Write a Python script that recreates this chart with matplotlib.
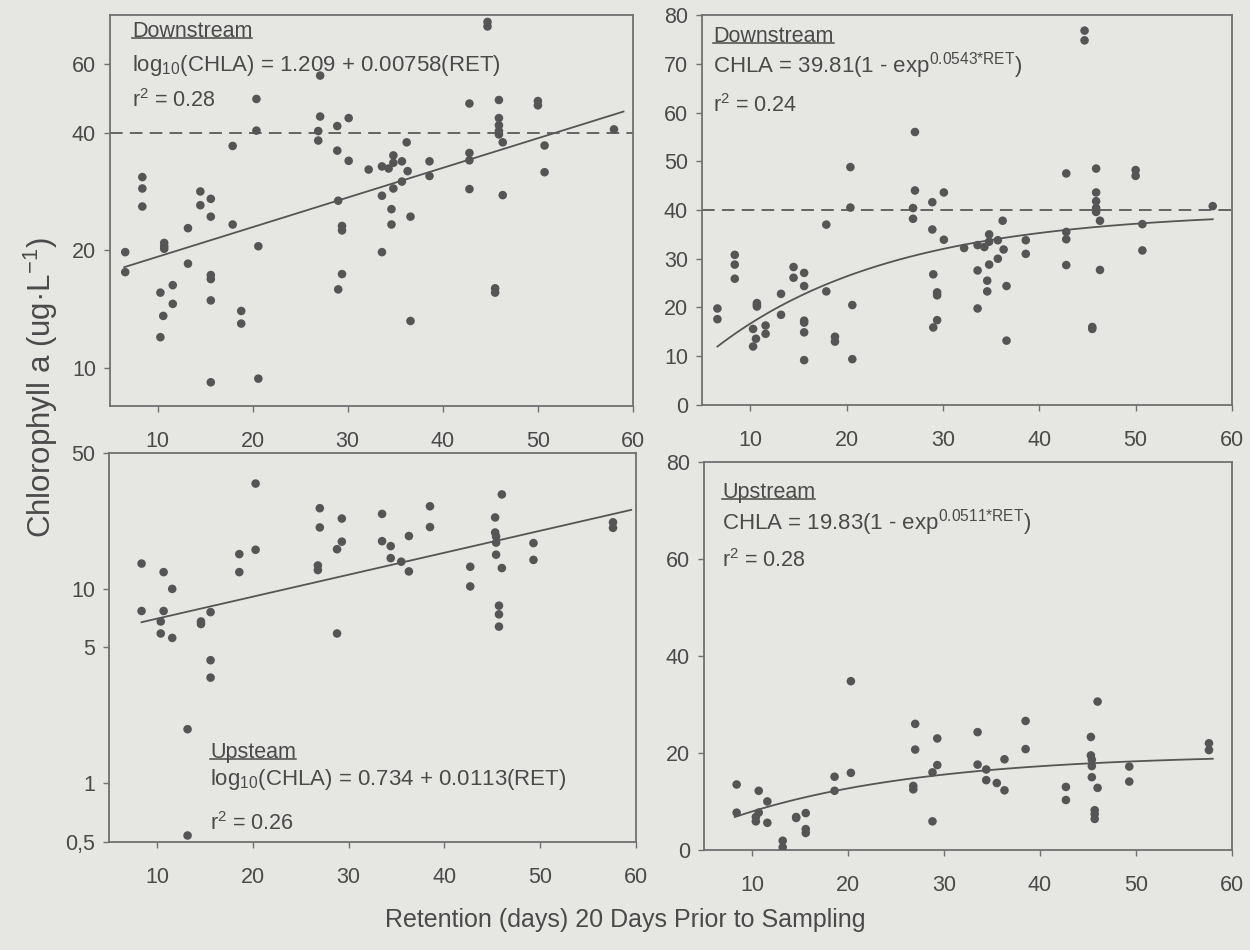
import matplotlib.pyplot as plt
import numpy as np

plt.rcParams['font.family'] = ['Liberation Sans', 'DejaVu Sans']
plt.rcParams['mathtext.fontset'] = 'custom'
plt.rcParams['mathtext.rm'] = 'Liberation Sans'
plt.rcParams['mathtext.it'] = 'Liberation Sans:italic'
plt.rcParams['mathtext.bf'] = 'Liberation Sans:bold'

PAPER = '#e6e6e2'
INK = '#4a4a4a'
DOT = '#555555'

# Downstream: retention (days) vs chlorophyll a (ug/L)
down_ret = [6.6, 6.6, 8.4, 8.4, 8.4, 10.7, 10.7, 10.7, 10.3, 10.6, 10.3, 11.6, 11.6,
            13.2, 13.2, 14.5, 14.5, 15.6, 15.6, 15.6, 15.6, 15.6, 15.6, 17.9, 17.9,
            18.8, 18.8, 20.4, 20.4, 20.6, 20.6, 27.1, 27.1, 26.9, 26.9, 28.9, 28.9,
            29.0, 29.4, 29.4, 29.4, 29.0, 30.1, 30.1, 32.2, 33.6, 33.6, 33.6, 34.3,
            34.6, 34.6, 34.8, 34.8, 34.8, 35.7, 35.7, 36.3, 36.2, 36.6, 36.6, 38.6,
            38.6, 42.8, 42.8, 42.8, 42.8, 44.7, 44.7, 45.5, 45.5, 45.9, 45.9, 45.9,
            45.9, 45.9, 46.3, 46.3, 50.0, 50.0, 50.7, 50.7, 58.0]
down_chla = [19.8, 17.6, 30.8, 28.8, 25.9, 20.9, 20.2, 20.5, 15.6, 13.6, 12.0, 16.3, 14.6,
             22.8, 18.5, 28.3, 26.1, 27.1, 24.4, 17.3, 16.9, 14.9, 9.2, 37.0, 23.3,
             14.0, 13.0, 48.8, 40.5, 20.5, 9.4, 56.0, 44.0, 40.4, 38.2, 41.6, 36.0,
             26.8, 23.1, 22.5, 17.4, 15.9, 43.6, 33.9, 32.2, 32.8, 27.6, 19.8, 32.4,
             25.5, 23.3, 28.8, 35.0, 33.5, 33.8, 30.0, 31.9, 37.8, 24.4, 13.2, 33.8,
             31.0, 47.5, 35.5, 34.0, 28.7, 76.8, 74.8, 16.0, 15.6, 48.5, 43.6, 41.8,
             40.4, 39.6, 37.8, 27.7, 48.2, 47.0, 37.1, 31.7, 40.8]

# Upstream
up_ret = [8.4, 8.4, 10.7, 10.7, 10.4, 10.4, 11.6, 11.6, 13.2, 13.2, 14.6, 14.6,
          15.6, 15.6, 15.6, 18.6, 18.6, 20.3, 20.3, 27.0, 27.0, 26.8, 26.8, 28.8,
          28.8, 29.3, 29.3, 33.5, 33.5, 34.4, 34.4, 35.5, 36.3, 36.3, 38.5, 38.5,
          42.7, 42.7, 45.3, 45.3, 45.4, 45.4, 45.4, 45.7, 45.7, 45.7, 46.0, 46.0,
          49.3, 49.3, 57.6, 57.6]
up_chla = [13.5, 7.7, 12.2, 7.7, 6.8, 5.9, 10.0, 5.6, 1.9, 0.54, 6.8, 6.6,
           7.6, 4.3, 3.5, 15.1, 12.2, 34.8, 15.9, 26.0, 20.7, 13.2, 12.5, 5.9,
           16.0, 23.0, 17.5, 24.3, 17.6, 16.6, 14.4, 13.8, 18.7, 12.3, 26.6, 20.8,
           13.0, 10.3, 23.3, 19.5, 18.6, 17.3, 15.0, 8.2, 7.4, 6.4, 30.6, 12.8,
           17.2, 14.1, 22.0, 20.6]

# fitted models printed on the figure
down_log_fit = (1.209, 0.00758)
up_log_fit = (0.734, 0.0113)
down_exp_fit = (39.81, 0.0543)
up_exp_fit = (19.83, 0.0511)

fig = plt.figure(figsize=(12.5, 9.5), dpi=100, facecolor=PAPER)
ax_tl = fig.add_axes([0.088, 0.5726, 0.4184, 0.4116])
ax_tr = fig.add_axes([0.5616, 0.5737, 0.424, 0.4105])
ax_bl = fig.add_axes([0.0872, 0.1137, 0.4216, 0.4095])
ax_br = fig.add_axes([0.5632, 0.1053, 0.4224, 0.4084])


def style(ax):
    ax.set_facecolor(PAPER)
    for s in ax.spines.values():
        s.set_color('#707070')
        s.set_linewidth(1.3)
    ax.tick_params(direction='out', length=4, width=1, colors='#707070',
                   labelcolor=INK, labelsize=15.5, pad=6)
    ax.tick_params(axis='x', pad=14)
    ax.set_xlim(5, 60)
    ax.set_xticks([10, 20, 30, 40, 50, 60])
    ax.minorticks_off()


def dots(ax, x, y):
    ax.scatter(x, y, s=38, color=DOT, edgecolors='none', zorder=3)


underlines = []


def notes(ax, x, ys, lines):
    t = ax.text(x, ys[0], lines[0], transform=ax.transAxes, fontsize=15.5, color=INK)
    underlines.append((ax, t))
    ax.text(x, ys[1], lines[1], transform=ax.transAxes, fontsize=16, color=INK)
    ax.text(x, ys[2], lines[2], transform=ax.transAxes, fontsize=15.5, color=INK)


for ax in (ax_tl, ax_tr, ax_bl, ax_br):
    style(ax)

# top left: downstream, log scale
ax_tl.set_yscale('log')
ax_tl.set_ylim(8, 80)
ax_tl.set_yticks([10, 20, 40, 60])
ax_tl.set_yticklabels(['10', '20', '40', '60'])
ax_tl.minorticks_off()
dots(ax_tl, down_ret, down_chla)
xl = np.linspace(6.5, 59, 50)
ax_tl.plot(xl, 10 ** (down_log_fit[0] + down_log_fit[1] * xl), color=DOT, lw=1.3)
ax_tl.axhline(40, color='#5a5a5a', lw=1.3, ls=(0, (7, 4)))
notes(ax_tl, 0.042, [0.944, 0.857, 0.765],
      ['Downstream', r'log$_{10}$(CHLA) = 1.209 + 0.00758(RET)', r'r$^{2}$ = 0.28'])

# top right: downstream, linear
ax_tr.set_ylim(0, 80)
ax_tr.set_yticks(range(0, 81, 10))
dots(ax_tr, down_ret, down_chla)
xc = np.linspace(6.6, 58, 80)
ax_tr.plot(xc, down_exp_fit[0] * (1 - np.exp(-down_exp_fit[1] * xc)), color=DOT, lw=1.3)
ax_tr.axhline(40, color='#5a5a5a', lw=1.3, ls=(0, (7, 4)))
notes(ax_tr, 0.021, [0.931, 0.852, 0.751],
      ['Downstream', r'CHLA = 39.81(1 - exp$^{\mathrm{0.0543{*}RET}}$)', r'r$^{2}$ = 0.24'])

# bottom left: upstream, log scale
ax_bl.set_yscale('log')
ax_bl.set_ylim(0.5, 50)
ax_bl.set_yticks([0.5, 1, 5, 10, 50])
ax_bl.set_yticklabels(['0,5', '1', '5', '10', '50'])
ax_bl.minorticks_off()
dots(ax_bl, up_ret, up_chla)
xl = np.linspace(8.4, 59.5, 50)
ax_bl.plot(xl, 10 ** (up_log_fit[0] + up_log_fit[1] * xl), color=DOT, lw=1.3)
notes(ax_bl, 0.192, [0.216, 0.147, 0.031],
      ['Upsteam', r'log$_{10}$(CHLA) = 0.734 + 0.0113(RET)', r'r$^{2}$ = 0.26'])

# bottom right: upstream, linear
ax_br.set_ylim(0, 80)
ax_br.set_yticks([0, 20, 40, 60, 80])
dots(ax_br, up_ret, up_chla)
xc = np.linspace(8.2, 58, 80)
ax_br.plot(xc, up_exp_fit[0] * (1 - np.exp(-up_exp_fit[1] * xc)), color=DOT, lw=1.3)
notes(ax_br, 0.034, [0.907, 0.825, 0.729],
      ['Upstream', r'CHLA = 19.83(1 - exp$^{\mathrm{0.0511{*}RET}}$)', r'r$^{2}$ = 0.28'])

fig.text(0.033, 0.5916, 'Chlorophyll a (ug\u00b7L$^{-1}$)', rotation=90,
         ha='center', va='center', fontsize=22.5, color=INK)
fig.text(0.5, 0.032, 'Retention (days) 20 Days Prior to Sampling',
         ha='center', va='center', fontsize=18, color=INK)

# underline the site names
fig.canvas.draw()
r = fig.canvas.get_renderer()
for ax, t in underlines:
    bb = t.get_window_extent(r).transformed(fig.transFigure.inverted())
    yb = bb.y0 + 0.004
    fig.add_artist(plt.Line2D([bb.x0, bb.x1], [yb, yb], color=INK, lw=1.1,
                              transform=fig.transFigure))

fig.savefig('out.png', dpi=100, facecolor=PAPER)
